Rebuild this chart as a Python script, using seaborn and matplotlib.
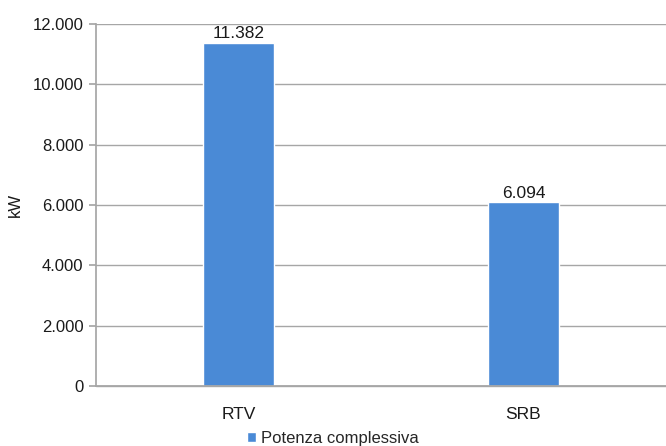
import matplotlib
matplotlib.use("Agg")
import matplotlib.pyplot as plt
import matplotlib.ticker as mticker
from matplotlib.patches import Patch
import seaborn as sns
import pandas as pd

categories = ["RTV", "SRB"]
values = [11382, 6094]
series_name = "Potenza complessiva"
y_ticks = [0, 2000, 4000, 6000, 8000, 10000, 12000]

sns.set_theme(style="white")
plt.rcParams["font.family"] = ["Liberation Sans", "DejaVu Sans"]

bar_color = "#4A8AD6"
text_color = "#1a1a1a"
df = pd.DataFrame({"cat": categories, "val": values})

fig = plt.figure(figsize=(6.66, 4.46), dpi=100)
ax = fig.add_axes([96 / 666, 1 - 386 / 446, (666 - 96) / 666, (386 - 24) / 446])

sns.barplot(data=df, x="cat", y="val", color=bar_color, width=0.25,
            saturation=1, ax=ax)

def it_fmt(v, pos=None):
    return f"{int(round(v)):,}".replace(",", ".")

ax.set_ylim(0, 12000)
ax.set_xlim(-0.5, 1.5)
ax.set_yticks(y_ticks)
ax.yaxis.set_major_formatter(mticker.FuncFormatter(it_fmt))
ax.grid(axis="y", color="#a6a6a6", linewidth=1)
ax.set_axisbelow(True)
for s in ["top", "right"]:
    ax.spines[s].set_visible(False)
ax.spines["left"].set_color("#a6a6a6")
ax.spines["bottom"].set_color("#a6a6a6")
ax.spines["bottom"].set_bounds(-0.5, 1.5)
ax.axhline(0, color="#a6a6a6", linewidth=1, zorder=0.5, clip_on=False)
ax.tick_params(axis="y", length=5, color="#a6a6a6", labelsize=12, pad=4,
               left=True, labelcolor=text_color)
ax.tick_params(axis="x", length=0, labelsize=12.5, pad=15, labelcolor=text_color)
ax.set_xlabel("")
ax.set_ylabel("")
fig.text(15 / 666, 1 - 205 / 446, "kW", rotation=90, ha="center", va="center",
         fontsize=12, color=text_color)

for cont in ax.containers:
    ax.bar_label(cont, labels=[it_fmt(v) for v in values], padding=1,
                 fontsize=12.5, color=text_color)

fig.legend(handles=[Patch(facecolor=bar_color, label=series_name)],
           loc="center", bbox_to_anchor=(0.5, 1 - 438 / 446), frameon=False,
           fontsize=12, handlelength=0.55, handleheight=0.55, handletextpad=0.3)

fig.savefig("out.png", dpi=100, facecolor="white")
